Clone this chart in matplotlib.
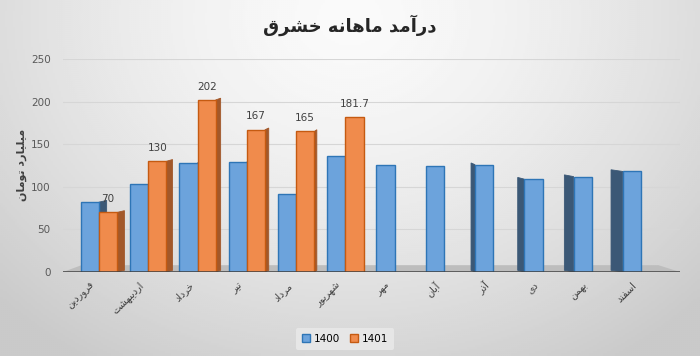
import numpy as np
import matplotlib
matplotlib.use("Agg")
import matplotlib.pyplot as plt
from matplotlib.patches import Polygon
from matplotlib.transforms import blended_transform_factory

# data
months = ['فروردین', 'اردیبهشت', 'خرداد', 'تیر', 'مرداد', 'شهریور',
          'مهر', 'آبان', 'آذر', 'دی', 'بهمن', 'اسفند']
rev_1400 = [82, 103, 128, 129, 91, 136, 126, 124, 126, 109, 112, 118]
rev_1401 = [70, 130, 202, 167, 165, 181.7]
series_names = ['1400', '1401']
title_text = 'درآمد ماهانه خشرق'
ylabel_text = 'میلیارد تومان'
yticks = [0, 50, 100, 150, 200, 250]

# presentation forms: isolated, final, (initial, medial)
FORMS = {
    'آ': '\ufe81\ufe82',
    'ا': '\ufe8d\ufe8e',
    'ب': '\ufe8f\ufe90\ufe91\ufe92',
    'ت': '\ufe95\ufe96\ufe97\ufe98',
    'خ': '\ufea5\ufea6\ufea7\ufea8',
    'د': '\ufea9\ufeaa',
    'ذ': '\ufeab\ufeac',
    'ر': '\ufead\ufeae',
    'س': '\ufeb1\ufeb2\ufeb3\ufeb4',
    'ش': '\ufeb5\ufeb6\ufeb7\ufeb8',
    'ف': '\ufed1\ufed2\ufed3\ufed4',
    'ق': '\ufed5\ufed6\ufed7\ufed8',
    'ل': '\ufedd\ufede\ufedf\ufee0',
    'م': '\ufee1\ufee2\ufee3\ufee4',
    'ن': '\ufee5\ufee6\ufee7\ufee8',
    'ه': '\ufee9\ufeea\ufeeb\ufeec',
    'و': '\ufeed\ufeee',
    'ی': '\ufeef\ufef0\ufef3\ufef4',
}


def shape(text):
    """Join Persian letters and put them in visual (left-to-right) order."""
    out = []
    for i, ch in enumerate(text):
        forms = FORMS.get(ch)
        if forms is None:
            out.append(ch)
            continue
        prev = text[i - 1] if i > 0 else ''
        nxt = text[i + 1] if i < len(text) - 1 else ''
        jp = prev in FORMS and len(FORMS[prev]) == 4
        jn = len(forms) == 4 and nxt in FORMS
        if jp and jn:
            out.append(forms[3])
        elif jp:
            out.append(forms[1])
        elif jn:
            out.append(forms[2])
        else:
            out.append(forms[0])
    return ''.join(reversed(out))


def side_face(ax, xc, w, h, color, vp=6.3):
    # fake 3d depth, leaning toward the middle of the chart
    if xc < vp:
        d = 0.024 * (vp - xc)
        x0 = xc + w / 2
    else:
        d = 0.053 * (vp - xc)
        x0 = xc - w / 2
    if abs(d) < 0.03:
        return
    dy = 2.0
    pts = [(x0, 0), (x0 + d, dy), (x0 + d, h + dy), (x0, h)]
    ax.add_patch(Polygon(pts, closed=True, facecolor=color, edgecolor=color,
                         lw=0.6, zorder=2))


fig = plt.figure(figsize=(7, 3.56), dpi=100)

# grey gradient background, light at the top centre
bg = fig.add_axes([0, 0, 1, 1], zorder=-5)
gx, gy = np.meshgrid(np.linspace(0, 1, 350), np.linspace(0, 1, 178))
r = np.sqrt(((gx - 0.5) / 0.7) ** 2 + ((gy - 0.95) / 1.15) ** 2)
shade = 0.98 - 0.19 * np.clip(r, 0, 1) ** 1.5
bg.imshow(shade, cmap='gray', vmin=0, vmax=1, origin='lower',
          extent=[0, 1, 0, 1], aspect='auto', interpolation='bilinear')
bg.axis('off')

left, right = 63 / 700, 680 / 700
bottom, top = 1 - 272 / 356, 1 - 59 / 356
ax = fig.add_axes([left, bottom, right - left, top - bottom])
ax.patch.set_alpha(0)

x = np.arange(len(months))
w = 0.37
blue_face, blue_edge, blue_side = '#6ca3dc', '#2e75b6', '#3b5876'
orange_face, orange_edge, orange_side = '#f08b4c', '#c55a11', '#a2582a'

# floor
trans = blended_transform_factory(ax.transAxes, ax.transData)
ax.add_patch(Polygon([(0, 0), (1, 0), (0.965, 8), (0.03, 8)], closed=True,
                     transform=trans, facecolor='#bdbdbd', edgecolor='none',
                     zorder=0.5))

xb = x - w / 2
xo = x[:len(rev_1401)] + w / 2
for xc, h in zip(xb, rev_1400):
    side_face(ax, xc, w, h, blue_side)
for xc, h in zip(xo, rev_1401):
    side_face(ax, xc, w, h, orange_side)

ax.bar(xb, rev_1400, w, color=blue_face, edgecolor=blue_edge, lw=1,
       label=series_names[0], zorder=3)
ax.bar(xo, rev_1401, w, color=orange_face, edgecolor=orange_edge,
       lw=1, label=series_names[1], zorder=4)

for xc, v in zip(xo, rev_1401):
    ax.annotate(f'{v:g}', (xc, v), xytext=(0, 6), textcoords='offset points',
                ha='center', va='bottom', fontsize=7.5, color='#404040')

ax.axhline(0, color='#404040', lw=1.8, zorder=6)

ax.set_ylim(0, 250)
ax.set_xlim(-0.73, 11.79)
ax.set_yticks(yticks)
ax.yaxis.grid(True, color='#d6d6d6', lw=0.8)
ax.set_axisbelow(True)
ax.tick_params(axis='y', length=0, pad=9, labelsize=7.5, labelcolor='#595959')
ax.set_xticks([])
for s in ax.spines.values():
    s.set_visible(False)

xt = blended_transform_factory(ax.transData, ax.transAxes)
for i, m in enumerate(months):
    ax.text(i - 0.12, -0.055, shape(m), transform=xt, rotation=45,
            rotation_mode='anchor', ha='right', va='center', fontsize=7,
            color='#404040')

fig.text(22 / 700, 1 - 165 / 356, shape(ylabel_text), rotation=90,
         ha='center', va='center', fontsize=8, fontweight='bold',
         color='#404040')
fig.text(0.5, 1 - 25 / 356, shape(title_text), ha='center', va='center',
         fontsize=13, fontweight='bold', color='#262626')

leg = fig.legend(loc='center', bbox_to_anchor=(345 / 700, 1 - 339 / 356),
                 ncol=2, fontsize=7.5, frameon=True, handlelength=0.8,
                 handleheight=0.8, columnspacing=1.0, handletextpad=0.3,
                 borderpad=0.6)
leg.get_frame().set_facecolor('#e6e6e6')
leg.get_frame().set_edgecolor('none')
leg.get_frame().set_alpha(1)

fig.savefig('out.png', dpi=100)
